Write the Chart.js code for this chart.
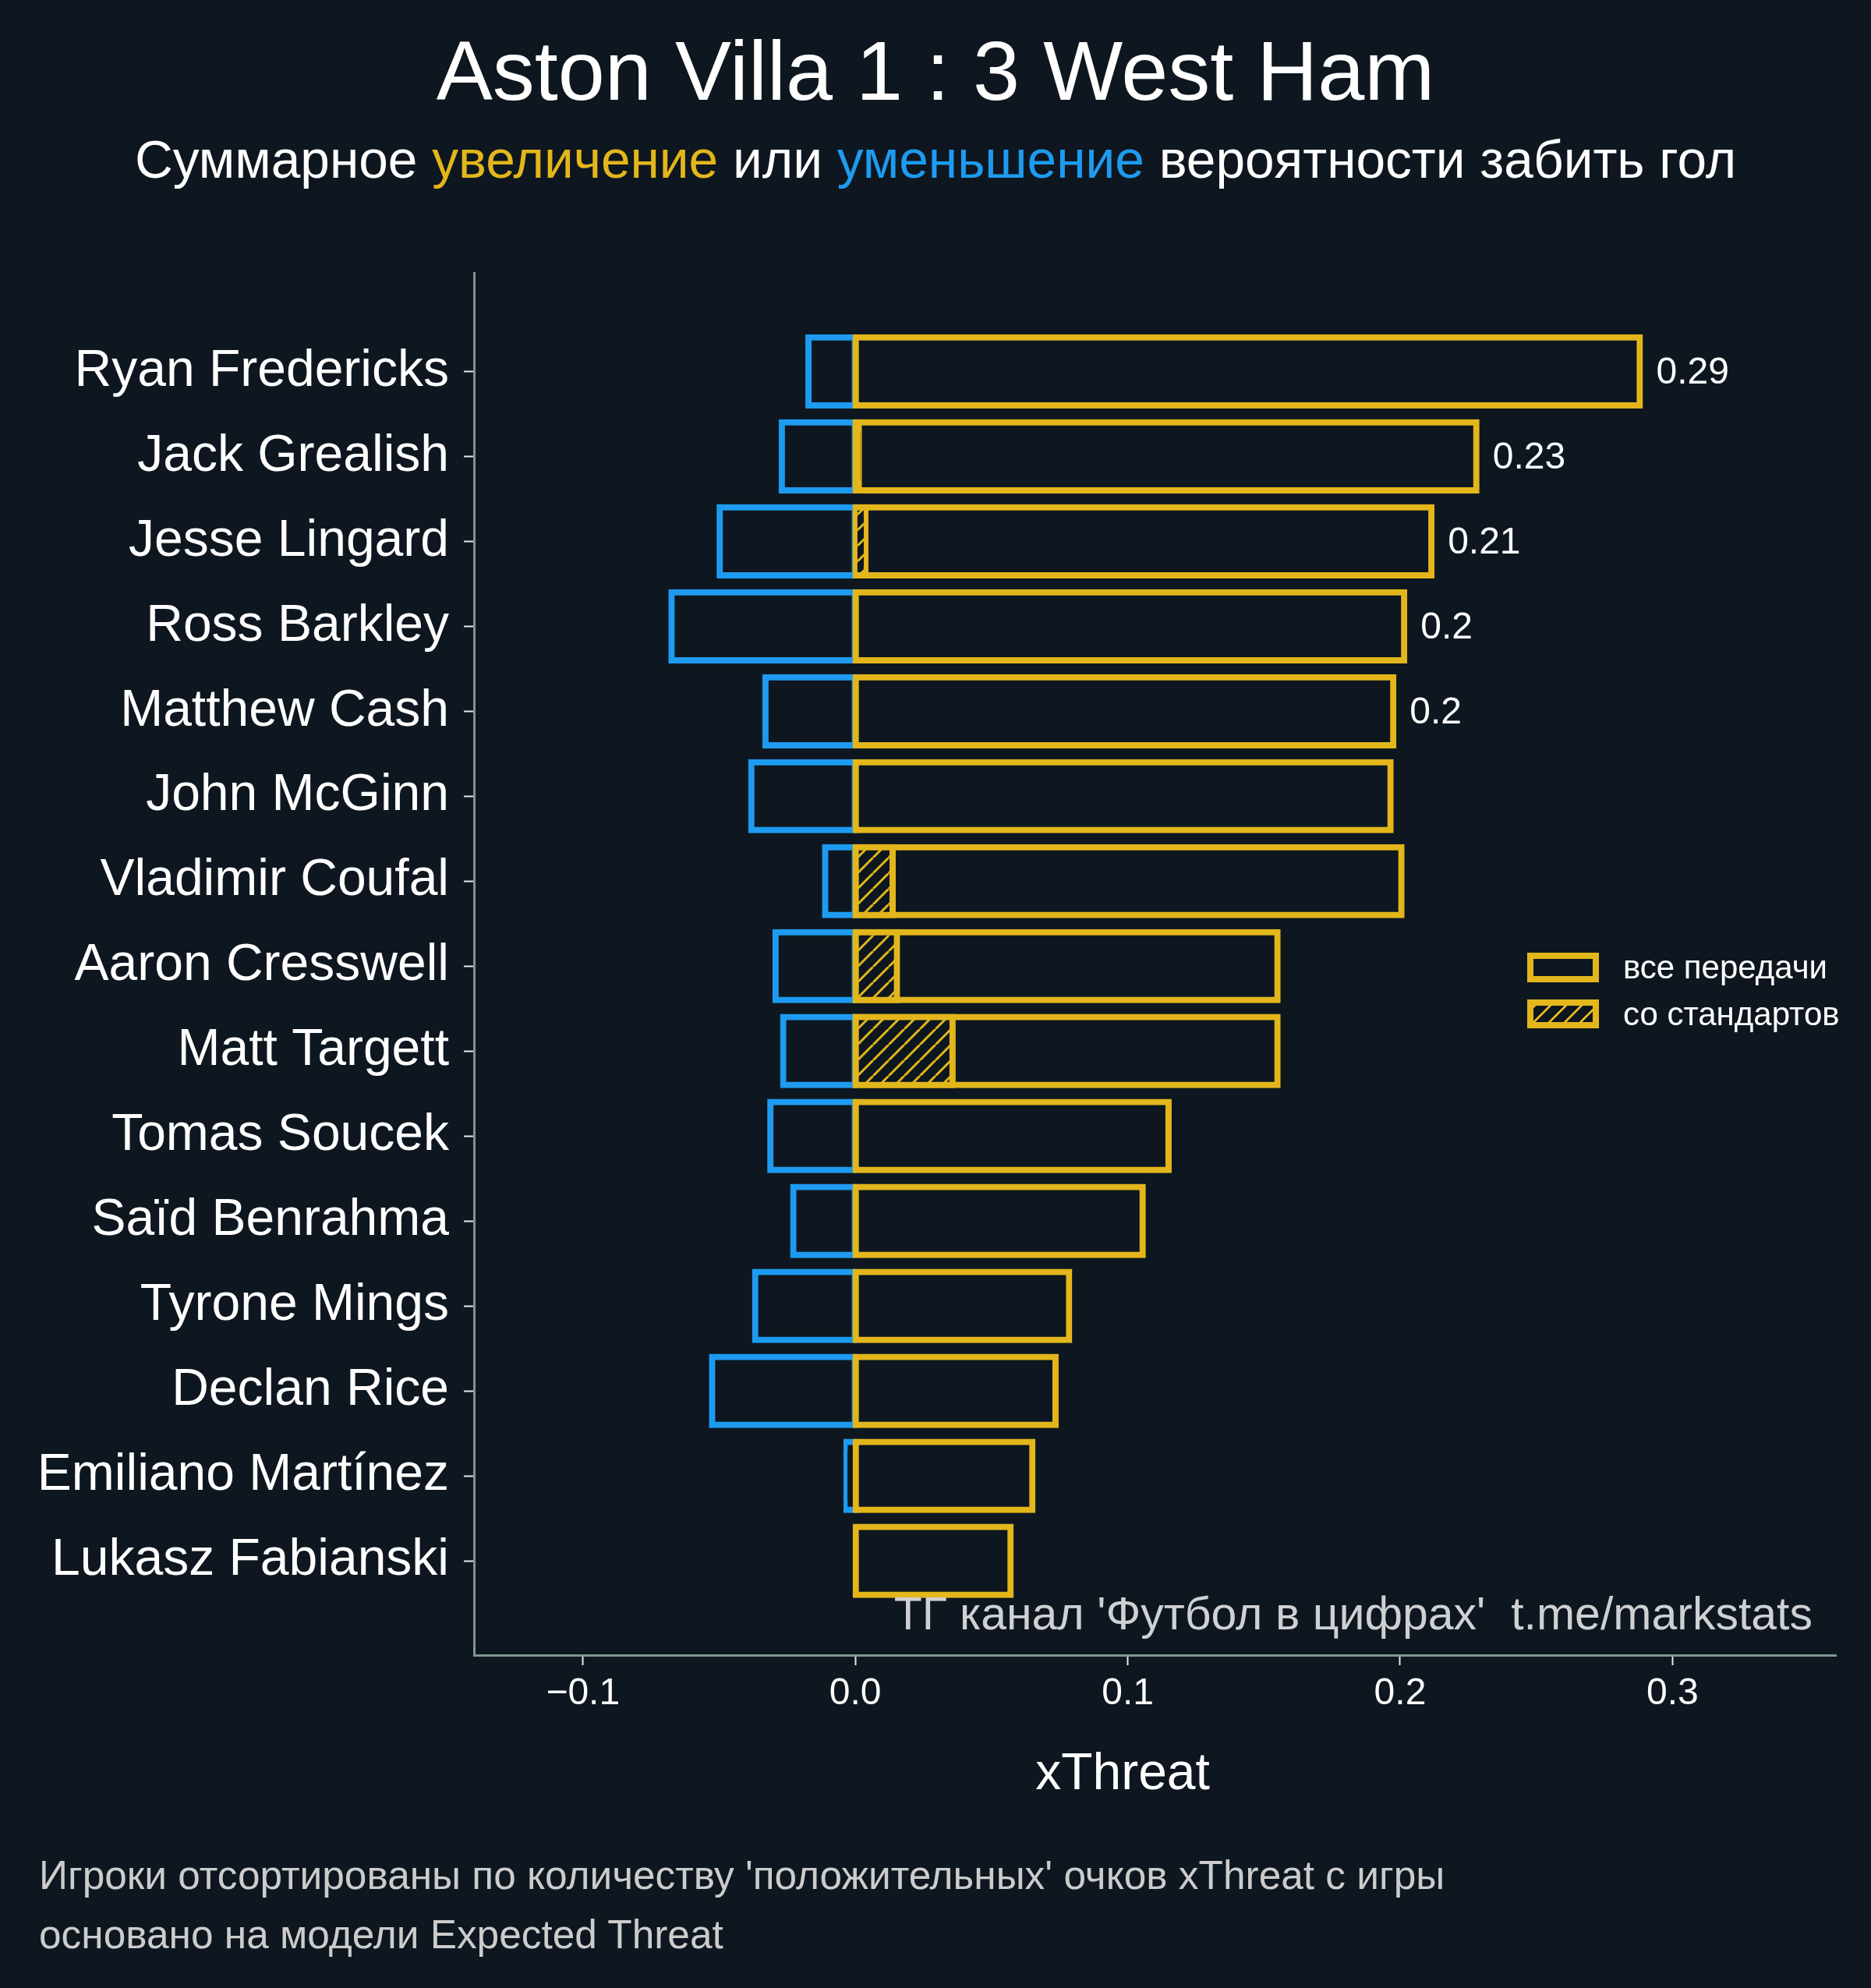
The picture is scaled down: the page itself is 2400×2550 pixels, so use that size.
<!DOCTYPE html>
<html>
<head>
<meta charset="utf-8">
<script src="https://cdn.jsdelivr.net/npm/chart.js@4.4.1/dist/chart.umd.min.js"></script>
<style>
  body { margin: 0; background: #0e1720; }
  #wrap { position: relative; width: 2400px; height: 2550px; font-family: "Liberation Sans", Arial, sans-serif; }
  #chart { position: absolute; left: 0; top: 0; }
  .txt { position: absolute; line-height: 1; white-space: nowrap; }
  .box { position: absolute; box-sizing: border-box; border: 8px solid #e3b61b; background: #0e1720; }
</style>
</head>
<body>
<div id="wrap">
  <canvas id="chart" width="2400" height="2550"></canvas>

  <div class="txt" style="left:0;width:2400px;text-align:center;top:37px;font-size:108px;color:#fff">Aston Villa 1 : 3 West Ham</div>
  <div class="txt" style="left:0;width:2400px;text-align:center;top:171px;font-size:67.6px;color:#fff">Суммарное <span style="color:#e3b61b">увеличение</span> или <span style="color:#1e9bf0">уменьшение</span> вероятности забить гол</div>

  <div class="box" style="left:1959px;top:1222px;width:92px;height:38px"></div>
  <div class="box" style="left:1959px;top:1282px;width:92px;height:37px;background:repeating-linear-gradient(135deg,#e3b61b 0 2.5px,#0e1720 2.5px 14.14px)"></div>
  <div class="txt" style="left:2082px;top:1220px;font-size:42px;color:#fff">все передачи</div>
  <div class="txt" style="left:2082px;top:1280px;font-size:42px;color:#fff">со стандартов</div>

  <div class="txt" style="right:75px;top:2041px;font-size:59px;color:#cfd0d2">ТГ канал 'Футбол в цифрах'&nbsp; t.me/markstats</div>
  <div class="txt" style="left:1240px;width:400px;text-align:center;top:2239px;font-size:66px;color:#fff">xThreat</div>

  <div class="txt" style="left:50px;top:2380px;font-size:51.4px;color:#cccccc">Игроки отсортированы по количеству 'положительных' очков xThreat с игры</div>
  <div class="txt" style="left:50px;top:2456px;font-size:51.4px;color:#cccccc">основано на модели Expected Threat</div>
</div>

<script>
const BG = '#0e1720';
const YELLOW = '#e3b61b';
const BLUE = '#1e9bf0';
const SPINE = '#7f9490';

// players, top to bottom
const players = [
    'Ryan Fredericks', 'Jack Grealish', 'Jesse Lingard', 'Ross Barkley', 'Matthew Cash',
    'John McGinn', 'Vladimir Coufal', 'Aaron Cresswell', 'Matt Targett', 'Tomas Soucek',
    'Saïd Benrahma', 'Tyrone Mings', 'Declan Rice', 'Emiliano Martínez', 'Lukasz Fabianski'
];
// positive xThreat, all passes
const positiveXT = [0.288, 0.228, 0.2115, 0.2015, 0.1975, 0.1965, 0.2005, 0.155, 0.155, 0.115, 0.1055, 0.0785, 0.0735, 0.065, 0.057];
// negative xThreat
const negativeXT = [-0.0172, -0.027, -0.0498, -0.0675, -0.033, -0.0382, -0.0111, -0.0293, -0.0265, -0.0312, -0.0228, -0.0368, -0.0526, -0.0032, null];
// positive xThreat from set pieces
const setPieceXT = [null, 0.0013, 0.0037, null, null, null, 0.0137, 0.0153, 0.0357, null, null, null, null, null, null];
const xTicks = [-0.1, 0, 0.1, 0.2, 0.3];
const labelledRows = 5;

Chart.defaults.font.family = '"Liberation Sans", Arial, sans-serif';

const ctx = document.getElementById('chart').getContext('2d');

function makeHatch() {
    const tile = document.createElement('canvas');
    tile.width = tile.height = 20;
    const c = tile.getContext('2d');
    c.fillStyle = BG;
    c.fillRect(0, 0, 20, 20);
    c.strokeStyle = YELLOW;
    c.lineWidth = 3;
    c.beginPath();
    for (const k of [-20, 0, 20]) {
        c.moveTo(k, 20);
        c.lineTo(k + 20, 0);
    }
    c.stroke();
    return ctx.createPattern(tile, 'repeat');
}
const hatch = makeHatch();

const toPoints = values => values.map((v, i) => ({ x: v, y: i }));

// value labels to the right of the top bars
const valueLabels = {
    id: 'valueLabels',
    afterDatasetsDraw(chart) {
        const meta = chart.getDatasetMeta(1);
        const c = chart.ctx;
        c.save();
        c.font = '48px "Liberation Sans", Arial, sans-serif';
        c.fillStyle = '#ffffff';
        c.textBaseline = 'middle';
        for (let i = 0; i < labelledRows; i++) {
            const bar = meta.data[i];
            const text = String(Math.round(positiveXT[i] * 100) / 100);
            c.fillText(text, bar.x + 21, bar.y + 2);
        }
        c.restore();
    }
};

const barStyle = {
    grouped: false,
    borderWidth: 8,
    inflateAmount: 4,
    borderSkipped: false,
    categoryPercentage: 1,
    barPercentage: 0.8
};

new Chart(ctx, {
    type: 'bar',
    data: {
        datasets: [
            Object.assign({
                label: 'со стандартов',
                data: toPoints(setPieceXT),
                backgroundColor: c => (c.parsed && Math.abs(c.parsed.x) < 0.002) ? YELLOW : hatch,
                borderColor: YELLOW
            }, barStyle),
            Object.assign({
                label: 'все передачи',
                data: toPoints(positiveXT),
                backgroundColor: BG,
                borderColor: YELLOW
            }, barStyle),
            Object.assign({
                label: 'уменьшение',
                data: toPoints(negativeXT),
                backgroundColor: BG,
                borderColor: BLUE
            }, barStyle)
        ]
    },
    options: {
        indexAxis: 'y',
        responsive: false,
        animation: false,
        devicePixelRatio: 1,
        layout: { padding: { top: 350, right: 45, bottom: 0, left: 0 } },
        plugins: { legend: { display: false }, tooltip: { enabled: false } },
        scales: {
            x: {
                type: 'linear',
                min: -0.14,
                max: 0.36,
                afterBuildTicks: scale => { scale.ticks = xTicks.map(v => ({ value: v })); },
                afterFit: scale => { scale.height = 427; },
                ticks: {
                    color: '#ffffff',
                    font: { size: 48 },
                    padding: 8,
                    maxRotation: 0,
                    callback: v => (v < 0 ? '\u2212' : '') + Math.abs(v).toFixed(1)
                },
                grid: { drawOnChartArea: false, drawTicks: true, tickLength: 13, tickColor: '#e8e8e8', tickWidth: 2 },
                border: { color: SPINE, width: 3 }
            },
            y: {
                type: 'linear',
                reverse: true,
                offset: false,
                min: -1.16,
                max: 15.11,
                afterBuildTicks: scale => { scale.ticks = players.map((_, i) => ({ value: i })); },
                afterFit: scale => { scale.width = 608; },
                ticks: {
                    color: '#ffffff',
                    font: { size: 66 },
                    padding: 19,
                    callback: v => players[v]
                },
                grid: { offset: false, drawOnChartArea: false, drawTicks: true, tickLength: 13, tickColor: '#e8e8e8', tickWidth: 2 },
                border: { color: SPINE, width: 3 }
            }
        }
    },
    plugins: [valueLabels]
});
</script>
</body>
</html>
